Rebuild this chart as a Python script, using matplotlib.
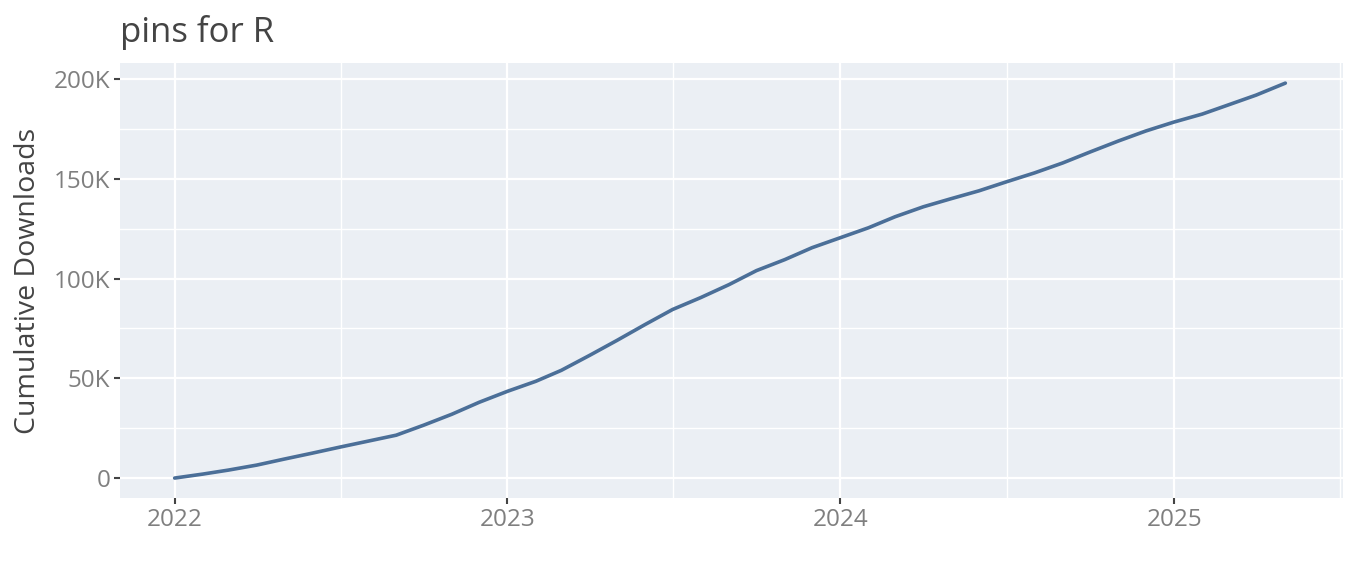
import datetime as dt

import matplotlib
matplotlib.use('Agg')
import matplotlib.pyplot as plt
import matplotlib.dates as mdates
from matplotlib.ticker import FuncFormatter

# monthly readings of cumulative downloads (thousands)
dates = [
    '2022-01-01', '2022-02-01', '2022-03-01', '2022-04-01', '2022-05-01', '2022-06-01',
    '2022-07-01', '2022-08-01', '2022-09-01', '2022-10-01', '2022-11-01', '2022-12-01',
    '2023-01-01', '2023-02-01', '2023-03-01', '2023-04-01', '2023-05-01', '2023-06-01',
    '2023-07-01', '2023-08-01', '2023-09-01', '2023-10-01', '2023-11-01', '2023-12-01',
    '2024-01-01', '2024-02-01', '2024-03-01', '2024-04-01', '2024-05-01', '2024-06-01',
    '2024-07-01', '2024-08-01', '2024-09-01', '2024-10-01', '2024-11-01', '2024-12-01',
    '2025-01-01', '2025-02-01', '2025-03-01', '2025-04-01', '2025-05-03',
]
downloads_k = [
    0, 2, 4, 6.5, 9.5, 12.5,
    15.5, 18.5, 21.5, 26.5, 32, 38,
    43.5, 48.5, 54, 61.5, 69, 77,
    84.5, 90.5, 97, 104, 109.5, 115.5,
    120.5, 125.5, 131, 136, 140, 144,
    148.5, 153, 158, 163.5, 169, 174,
    178.5, 182.5, 187, 192, 198,
]
year_ticks = ['2022', '2023', '2024', '2025']
y_ticks = [0, 50000, 100000, 150000, 200000]

plt.rcParams['font.family'] = ['Open Sans', 'DejaVu Sans']

x = [dt.datetime.strptime(d, '%Y-%m-%d') for d in dates]
y = [v * 1000 for v in downloads_k]

fig = plt.figure(figsize=(13.66, 5.85), dpi=100)
ax = fig.add_axes([0.0878, 0.1487, 0.8952, 0.7433])
ax.set_facecolor('#EBEFF4')
for s in ax.spines.values():
    s.set_visible(False)

major_x = [dt.datetime(int(t), 1, 1) for t in year_ticks]
minor_x = [dt.datetime(int(t), 7, 2) for t in year_ticks]
ax.set_xticks(major_x)
ax.set_xticks(minor_x, minor=True)
ax.xaxis.set_major_formatter(mdates.DateFormatter('%Y'))
ax.set_yticks(y_ticks)
ax.set_yticks([25000, 75000, 125000, 175000], minor=True)
ax.yaxis.set_major_formatter(
    FuncFormatter(lambda v, p: '0' if v == 0 else f'{int(v / 1000)}K'))

ax.grid(which='major', color='white', linewidth=1.6)
ax.grid(which='minor', color='white', linewidth=1.0)
ax.set_axisbelow(True)

ax.plot(x, y, color='#4B6F98', linewidth=2.6, solid_capstyle='round')

ax.set_xlim(dt.datetime(2021, 11, 2), dt.datetime(2025, 7, 5))
ax.set_ylim(-10000, 208000)

ax.tick_params(which='major', length=4, width=1.5, color='#444444',
               labelsize=17.5, labelcolor='#7F7F7F', pad=3)
ax.tick_params(which='minor', length=0)

ax.set_ylabel('Cumulative Downloads', fontsize=20.5, color='#444444', labelpad=8)
fig.text(0.0878, 0.928, 'pins for R', fontsize=25, color='#444444', ha='left')

fig.savefig('out.png', dpi=100)
